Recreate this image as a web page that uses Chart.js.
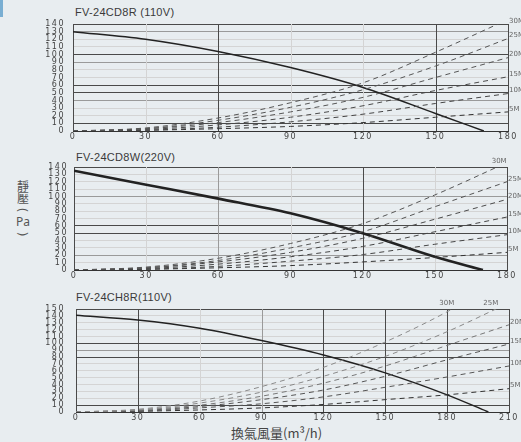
<!DOCTYPE html>
<html>
<head>
<meta charset="utf-8">
<script src="https://cdn.jsdelivr.net/npm/chart.js@4.4.1/dist/chart.umd.min.js"></script>
<style>
    html, body { margin: 0; padding: 0; }
    body {
        width: 521px; height: 442px; overflow: hidden; position: relative;
        background: #e8edf0;
        font-family: "Liberation Sans", Arial, sans-serif;
    }
    canvas { position: absolute; left: 0; }
    .ttl { position: absolute; font-size: 11px; line-height: 13px; color: #3a3a3a; white-space: nowrap; letter-spacing: 0.3px; }
    .ylab {
        position: absolute; left: 13px; top: 180px; width: 20px; text-align: center;
        font: 12px/12px "Noto Sans CJK TC", "Noto Sans", sans-serif; color: #555;
    }
    .ylab div { height: 12px; }
    .ylab .rot { transform: rotate(90deg); font-family: "Noto Sans", sans-serif; }
    .ylab .pa { font-family: "Noto Sans", sans-serif; font-size: 12px; }
    .xlab {
        position: absolute; left: 231px; top: 425px; white-space: nowrap;
        font: 13px/16px "Noto Sans CJK TC", "Noto Sans", sans-serif; color: #444;
    }
    .mark { position: absolute; left: 0; top: 0; width: 3px; height: 17px; background: #79aed2; }
</style>
</head>
<body>
<div class="mark"></div>
<div class="ttl" style="left:75px; top:6px;">FV-24CD8R (110V)</div>
<div class="ttl" style="left:76px; top:151px;">FV-24CD8W(220V)</div>
<div class="ttl" style="left:76px; top:291px;">FV-24CH8R(110V)</div>
<div class="ylab">
    <div>靜</div><div>壓</div><div class="rot">(</div><div class="pa">Pa</div><div class="rot">)</div>
</div>
<div class="xlab">換氣風量(m³/h)</div>

<canvas id="c1" width="521" height="145" style="top:0"></canvas>
<canvas id="c2" width="521" height="145" style="top:145px"></canvas>
<canvas id="c3" width="521" height="152" style="top:290px"></canvas>

<script>
/* ---------- data ---------- */
const ductNames = ['30M', '25M', '20M', '15M', '10M', '5M'];

// FV-24CD8R (110V)
const cd8rFlow   = [0, 30, 60, 90, 120, 150, 180];
const cd8rFanQ   = [0, 30, 60, 90, 120, 150, 170];
const cd8rFanP   = [130, 120, 104, 83, 57, 23, 0];
const cd8rDucts  = [
    [0, 4, 17, 37, 63, 103, 146],
    [0, 3, 14, 31, 54, 85, 121],
    [0, 3, 11, 25, 44, 70, 96],
    [0, 2, 8, 18, 33, 53, 71],
    [0, 1, 5, 12, 22, 36, 49],
    [0, 1, 3, 6, 11, 18, 25]
];

// FV-24CD8W (220V)
const cd8wFlow   = [0, 30, 60, 90, 120, 150, 180];
const cd8wFanQ   = [0, 30, 60, 90, 120, 150, 170];
const cd8wFanP   = [135, 116, 97, 77, 50, 18, 0];
const cd8wDucts  = [
    [0, 4, 16, 36, 63, 102, 146],
    [0, 3, 13, 30, 52, 86, 120],
    [0, 3, 11, 24, 43, 69, 96],
    [0, 2, 8, 18, 32, 52, 72],
    [0, 1, 5, 12, 21, 35, 48],
    [0, 1, 3, 6, 11, 17, 24]
];

// FV-24CH8R (110V)
const ch8rFlow   = [0, 30, 60, 90, 120, 150, 180, 210];
const ch8rFanQ   = [0, 30, 60, 90, 120, 150, 180, 200];
const ch8rFanP   = [141, 134, 122, 104, 83, 57, 25, 0];
const ch8rDucts  = [
    [0, 4, 16, 37, 65, 102, 146, 199],
    [0, 3, 13, 29, 52, 81, 117, 159],
    [0, 3, 10, 23, 42, 67, 97, 127],
    [0, 2, 8, 18, 32, 52, 76, 99],
    [0, 1, 6, 12, 22, 36, 51, 67],
    [0, 1, 3, 6, 11, 18, 25, 34]
];

const xTickStep = 30;
const yTickStep = 10;

/* ---------- helpers ---------- */
const pts = (xs, ys) => xs.map((x, i) => ({ x, y: ys[i] }));

const shade = (v, max, dark, mid) => {
    if (v === 0 || v === max || dark.includes(v)) return '#4a4a4a';
    if (mid.includes(v)) return '#9a9a9a';
    return '#d4d4d4';
};

// wide-looking tick digits (set after the canvas resize, which resets the context)
const wideText = {
    id: 'wideText',
    beforeDraw(chart) { chart.ctx.letterSpacing = '1.5px'; }
};

// vertical grid lines, drawn solid from the x scale ticks
const xGrid = {
    id: 'xGrid',
    beforeDatasetsDraw(chart, args, opts) {
        const { ctx, chartArea, scales } = chart;
        const sx = scales.x;
        ctx.save();
        ctx.setLineDash([]);
        ctx.lineWidth = 1;
        sx.ticks.forEach(t => {
            const x = Math.round(sx.getPixelForValue(t.value)) + 0.5;
            ctx.strokeStyle = shade(t.value, sx.max, opts.dark, opts.mid);
            ctx.beginPath();
            ctx.moveTo(x, chartArea.top);
            ctx.lineTo(x, chartArea.bottom);
            ctx.stroke();
        });
        ctx.restore();
    }
};

// labels for the duct curves: on the right edge, or above the frame where the curve leaves the top
const ductTags = {
    id: 'ductTags',
    afterDatasetsDraw(chart, args, opts) {
        const { ctx, chartArea, scales } = chart;
        const yMax = scales.y.max;
        ctx.save();
        ctx.letterSpacing = '0px';
        ctx.font = '7px "DejaVu Sans"';
        ctx.fillStyle = '#666';
        ctx.textBaseline = 'middle';
        opts.ducts.forEach((ys, i) => {
            const name = ductNames[i];
            if (i < opts.topTags) {
                let qx = opts.flow[opts.flow.length - 1];
                for (let k = 1; k < ys.length; k++) {
                    if (ys[k] >= yMax) {
                        const f = (yMax - ys[k - 1]) / (ys[k] - ys[k - 1]);
                        qx = opts.flow[k - 1] + f * (opts.flow[k] - opts.flow[k - 1]);
                        break;
                    }
                }
                ctx.textAlign = 'center';
                ctx.fillText(name, scales.x.getPixelForValue(qx) - 5 + opts.topShift, chartArea.top - 6);
            } else {
                const v = Math.min(ys[ys.length - 1], yMax);
                ctx.textAlign = 'left';
                ctx.fillText(name, chartArea.right + 1, scales.y.getPixelForValue(v) - 3);
            }
        });
        ctx.restore();
    }
};

function makePanel(id, p) {
    const datasets = p.ducts.map((ys, i) => ({
        data: pts(p.flow, ys),
        borderColor: p.dashCols[i],
        borderWidth: 1,
        segment: { borderDash: () => [5, 4] },
        cubicInterpolationMode: 'monotone'
    }));
    datasets.push({
        data: pts(p.fanQ, p.fanP),
        borderColor: '#222',
        borderWidth: p.fanWidth,
        cubicInterpolationMode: 'monotone'
    });

    new Chart(document.getElementById(id), {
        type: 'line',
        data: { datasets },
        plugins: [wideText, xGrid, ductTags],
        options: {
            responsive: false,
            animation: false,
            events: [],
            layout: { padding: { top: p.top, right: p.right, left: 0, bottom: 0 } },
            elements: { point: { radius: 0 } },
            plugins: {
                legend: { display: false },
                tooltip: { enabled: false },
                xGrid: { dark: p.xDark, mid: p.xMid },
                ductTags: { ducts: p.ducts, flow: p.flow, topTags: p.topTags, topShift: p.topShift || 0 }
            },
            scales: {
                x: {
                    type: 'linear', min: 0, max: p.xMax,
                    afterFit: s => { s.height = p.xAxisH; },
                    ticks: {
                        stepSize: xTickStep, autoSkip: false, maxRotation: 0, padding: 1,
                        color: '#444', font: { family: 'DejaVu Sans', size: 8 }
                    },
                    grid: { drawOnChartArea: false, drawTicks: false },
                    border: { color: '#333' }
                },
                y: {
                    min: 0, max: p.yMax,
                    afterFit: s => { s.width = p.yAxisW; },
                    ticks: {
                        stepSize: yTickStep, autoSkip: false, padding: p.yPad,
                        color: '#444', font: { family: 'DejaVu Sans', size: 8, lineHeight: 1 }
                    },
                    grid: { color: c => shade(c.tick.value, p.yMax, p.yDark, p.yMid), drawTicks: false },
                    border: { color: '#333' }
                }
            }
        }
    });
}

makePanel('c1', {
    flow: cd8rFlow, fanQ: cd8rFanQ, fanP: cd8rFanP, ducts: cd8rDucts,
    xMax: 180, yMax: 140, top: 24, right: 13, xAxisH: 14, yAxisW: 73, yPad: 8,
    xDark: [60, 150], xMid: [], yDark: [10, 50, 60, 100], yMid: [40, 90, 130],
    fanWidth: 1.5, topTags: 0,
    dashCols: ['#555', '#555', '#555', '#4a4a4a', '#444', '#333']
});

makePanel('c2', {
    flow: cd8wFlow, fanQ: cd8wFanQ, fanP: cd8wFanP, ducts: cd8wDucts,
    xMax: 180, yMax: 140, top: 22, right: 14, xAxisH: 20, yAxisW: 74, yPad: 6,
    xDark: [120], xMid: [60], yDark: [50, 60], yMid: [20, 100],
    fanWidth: 2.6, topTags: 1, topShift: 7,
    dashCols: ['#555', '#555', '#4a4a4a', '#444', '#444', '#333']
});

makePanel('c3', {
    flow: ch8rFlow, fanQ: ch8rFanQ, fanP: ch8rFanP, ducts: ch8rDucts,
    xMax: 210, yMax: 150, top: 19, right: 12, xAxisH: 30, yAxisW: 76, yPad: 11,
    xDark: [30, 120, 150, 180], xMid: [90], yDark: [10, 80, 100], yMid: [90],
    fanWidth: 1.5, topTags: 2,
    dashCols: ['#8a8a8a', '#888', '#777', '#555', '#555', '#333']
});
</script>
</body>
</html>
